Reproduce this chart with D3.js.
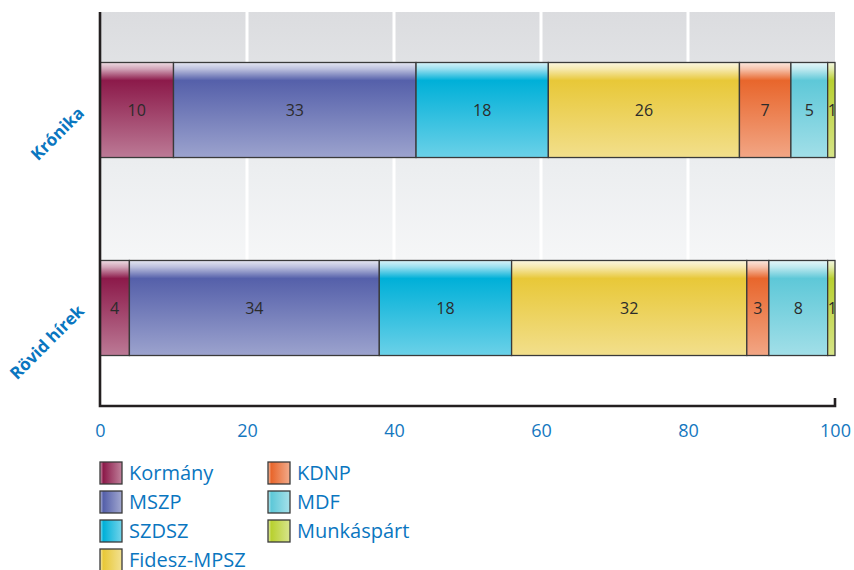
<!DOCTYPE html>
<html><head><meta charset="utf-8">
<script src="https://cdn.jsdelivr.net/npm/d3@7"></script>
<style>body{margin:0;background:#fff;} svg{display:block;font-family:"Open Sans",sans-serif;}</style>
</head><body>
<svg id="c" width="854" height="570"></svg>
<script>
const categories = ["Krónika", "Rövid hírek"];
const seriesNames = ["Kormány", "MSZP", "SZDSZ", "Fidesz-MPSZ", "KDNP", "MDF", "Munkáspárt"];
const kronika = [10, 33, 18, 26, 7, 5, 1];
const rovid = [4, 34, 18, 32, 3, 8, 1];
const xTicks = [0, 20, 40, 60, 80, 100];
const colors = ["#8c1a4a", "#5560aa", "#00b0d8", "#e8c838", "#e8662c", "#5ec8d8", "#b8d030"];
const values = [kronika, rovid];

const svg = d3.select("#c");
const M = {l:100, r:835, t:12, b:406};
const x = d3.scaleLinear().domain([0,100]).range([M.l, M.r]);
const y = d3.scaleBand().domain(categories).range([M.t, M.b]).paddingInner(0.52).paddingOuter(0.255);

const defs = svg.append("defs");
const bg = defs.append("linearGradient").attr("id","bg").attr("x1",0).attr("y1",0).attr("x2",0).attr("y2",1);
bg.append("stop").attr("offset","0%").attr("stop-color","#dbdcdf");
bg.append("stop").attr("offset","40%").attr("stop-color","#eceef0");
bg.append("stop").attr("offset","87%").attr("stop-color","#ffffff");
bg.append("stop").attr("offset","100%").attr("stop-color","#ffffff");

function mix(c, t){ return d3.interpolateRgb(c, "#ffffff")(t); }
colors.forEach((c,i)=>{
  const g = defs.append("linearGradient").attr("id","g"+i).attr("x1",0).attr("y1",0).attr("x2",0).attr("y2",1);
  g.append("stop").attr("offset","0%").attr("stop-color", mix(c,0.85));
  g.append("stop").attr("offset","7%").attr("stop-color", mix(c,0.6));
  g.append("stop").attr("offset","19%").attr("stop-color", c);
  g.append("stop").attr("offset","100%").attr("stop-color", mix(c,0.42));
  const h = defs.append("linearGradient").attr("id","h"+i).attr("x1",0).attr("y1",0).attr("x2",1).attr("y2",0);
  h.append("stop").attr("offset","0%").attr("stop-color", mix(c,0.6));
  h.append("stop").attr("offset","15%").attr("stop-color", c);
  h.append("stop").attr("offset","100%").attr("stop-color", mix(c,0.45));
});

// background
svg.append("rect").attr("x", M.l).attr("y", M.t).attr("width", M.r - M.l).attr("height", M.b - M.t).attr("fill","url(#bg)");
// gridlines
svg.append("g").selectAll("line").data(xTicks.filter(d=>d>0 && d<100)).join("line")
  .attr("x1", d=>x(d)).attr("x2", d=>x(d)).attr("y1", M.t).attr("y2", M.b)
  .attr("stroke","#ffffff").attr("stroke-width",3);

// bars
categories.forEach((cat, ci)=>{
  const vals = values[ci];
  let cum = 0;
  const segs = vals.map((v,i)=>{ const s={v, i, x0:cum, x1:cum+v}; cum+=v; return s; });
  const g = svg.append("g");
  g.selectAll("rect").data(segs).join("rect")
    .attr("x", d=>x(d.x0)).attr("width", d=>x(d.x1)-x(d.x0))
    .attr("y", y(cat)).attr("height", y.bandwidth())
    .attr("fill", d=>"url(#g"+d.i+")")
    .attr("stroke","#3a3a3a").attr("stroke-width",1.3);
  g.selectAll("text").data(segs).join("text")
    .attr("x", d=>(x(d.x0)+x(d.x1))/2 + (d.v===1?1:0)).attr("y", y(cat)+y.bandwidth()/2)
    .attr("dy","0.36em").attr("text-anchor","middle")
    .attr("font-size",16).attr("fill","#2b2b2b")
    .text(d=>d.v);
});

// axes
const xAxis = svg.append("g").attr("transform",`translate(0,${M.b})`)
  .call(d3.axisBottom(x).tickValues(xTicks).tickSize(0).tickPadding(18));
xAxis.select(".domain").remove();
xAxis.selectAll("text").attr("font-size",18).attr("fill","#1477c0").attr("font-family","'Open Sans',sans-serif");
svg.append("path").attr("d",`M${M.l},${M.t}V${M.b}H${M.r}V${M.b-8}`)
  .attr("fill","none").attr("stroke","#231f20").attr("stroke-width",2.6);

// category labels
svg.append("g").selectAll("text").data(categories).join("text")
  .attr("transform", d=>`translate(${M.l-19},${y(d)+y.bandwidth()/2}) rotate(-45)`)
  .attr("text-anchor","end").attr("dy","0.35em")
  .attr("font-size",17).attr("font-weight","bold").attr("fill","#0a76c0")
  .text(d=>d);

// legend
const lg = svg.append("g");
const legRows = 4, legRowH = 29, legColX = [100, 268], legTop = 462;
seriesNames.forEach((n,i)=>{
  const c = Math.floor(i/legRows), r = i%legRows;
  const gx = legColX[c], gy = legTop + r*legRowH;
  lg.append("rect").attr("x",gx).attr("y",gy).attr("width",22).attr("height",22)
    .attr("fill","url(#h"+i+")").attr("stroke","#3a3a3a").attr("stroke-width",1.3);
  lg.append("text").attr("x",gx+29).attr("y",gy+11).attr("dy","0.36em")
    .attr("font-size",20).attr("fill","#0a76c0").text(n);
});
</script>
</body></html>
